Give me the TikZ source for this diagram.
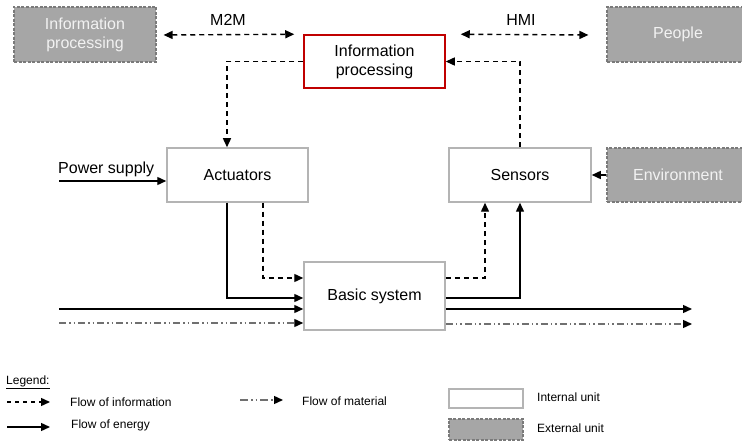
\documentclass[tikz,border=0pt]{standalone}
\usepackage{fontspec}
\setmainfont{Liberation Sans}
\usetikzlibrary{arrows.meta,calc}
\definecolor{extfill}{HTML}{A6A6A6}
\definecolor{extdraw}{HTML}{7A7A7A}
\definecolor{intdraw}{HTML}{B4B4B4}
\definecolor{redb}{HTML}{C00000}
\definecolor{matgray}{HTML}{707070}
\begin{document}
\begin{tikzpicture}[x=1pt,y=-1pt,
 tip/.style={-{Triangle[length=9pt,width=8pt]}},
 info/.style={draw=black,line width=1.4pt,dash pattern=on 5pt off 4pt,tip},
 energy/.style={draw=black,line width=1.4pt,tip},
 material/.style={draw=matgray,line width=1.4pt,dash pattern=on 7pt off 3pt on 1.5pt off 3pt on 1.5pt off 3pt,-{Triangle[length=9pt,width=8pt,black]}},
 box/.style={minimum width=141pt,minimum height=54pt,inner sep=0pt,align=center,font=\fontsize{16}{19}\selectfont},
 intbox/.style={box,draw=intdraw,line width=1.5pt,fill=white},
 extbox/.style={box,draw=extdraw,fill=extfill,text=white!95!black,line width=1.2pt,dash pattern=on 3pt off 1.5pt},
 lbl/.style={font=\fontsize{16}{19}\selectfont,inner sep=0pt},
 leg/.style={font=\fontsize{12}{14}\selectfont,inner sep=0pt,anchor=west},
]
\useasboundingbox (0,0) rectangle (742,443);
% units
\node[extbox,minimum width=142pt,minimum height=55pt] (extip) at (85,34.5) {Information\\processing};
\node[intbox,draw=redb,minimum height=53pt] (ip) at (374.5,61.5) {Information\\processing};
\node[extbox,minimum width=142pt,minimum height=55pt] (people) at (678,34.5) {People};
\node[intbox] (act) at (237.5,175) {Actuators};
\node[intbox,minimum width=142pt] (sen) at (520,175) {Sensors};
\node[extbox,minimum width=142pt] (env) at (678,175) {Environment};
\node[intbox,minimum height=68pt] (bas) at (374.5,296) {Basic system};
% labels
\node[lbl] (m2m) at (228,20) {M2M};
\node[lbl] (hmi) at (521,20) {HMI};
\node[lbl,anchor=west] (ps) at (58,169) {Power supply};
% M2M / HMI
\draw[info,{Triangle[length=9pt,width=8pt]}-{Triangle[length=9pt,width=8pt]}] ($(extip.east)+(7,0.5)$) -- ($(ip.north west)+(-9,0)$);
\draw[info,{Triangle[length=9pt,width=8pt]}-{Triangle[length=9pt,width=8pt]}] ($(ip.north east)+(15,0)$) -- ($(people.west)+(-18,0.5)$);
% info processing links
\draw[info] (ip.west) -| ($(act.north)+(-10.5,0)$);
\draw[info] (sen.north) |- (ip.east);
% power supply
\coordinate (psstart) at (59,181);
\draw[energy] (psstart) -- (psstart -| act.west);
% environment
\draw[energy] (env.west) -- (sen.east);
% actuators to basic system
\draw[energy] ($(act.south)+(-10.5,0)$) |- ($(bas.west)+(0,2)$);
\draw[info] ($(act.south)+(25.5,0)$) |- ($(bas.west)+(0,-18)$);
% inputs
\coordinate (in1) at (59,309);
\coordinate (in2) at (59,323);
\draw[energy] (in1) -- (in1 -| bas.west);
\draw[material] (in2) -- (in2 -| bas.west);
% outputs
\coordinate (out1) at (692,309);
\coordinate (out2) at (692,324);
\draw[energy] (out1 -| bas.east) -- (out1);
\draw[material] (out2 -| bas.east) -- (out2);
% basic system to sensors
\draw[info] ($(bas.east)+(0,-18)$) -| ($(sen.south)+(-35,0)$);
\draw[energy] ($(bas.east)+(0,2)$) -| (sen.south);
% legend
\node[leg] (legt) at (6,382) {\underline{Legend:}};
\coordinate (l1a) at (7,402); \coordinate (l1b) at (50,402);
\draw[info,dash pattern=on 4pt off 4pt] (l1a) -- (l1b);
\node[leg] (t1) at (70,402) {Flow of information};
\coordinate (l2a) at (7,427); \coordinate (l2b) at (50,427);
\draw[energy] (l2a) -- (l2b);
\node[leg] (t2) at (71,425) {Flow of energy};
\coordinate (l3a) at (240,400); \coordinate (l3b) at (283,400);
\draw[material,dash pattern=on 8pt off 3pt on 1.5pt off 3pt on 1.5pt off 3pt] (l3a) -- (l3b);
\node[leg] (t3) at (302,401) {Flow of material};
\node[intbox,minimum width=74pt,minimum height=19pt] (lint) at (486,398.5) {};
\node[leg] (t4) at (537,397) {Internal unit};
\node[extbox,minimum width=74pt,minimum height=21pt] (lext) at (486,429.5) {};
\node[leg] (t5) at (537,428) {External unit};
\end{tikzpicture}
\end{document}
